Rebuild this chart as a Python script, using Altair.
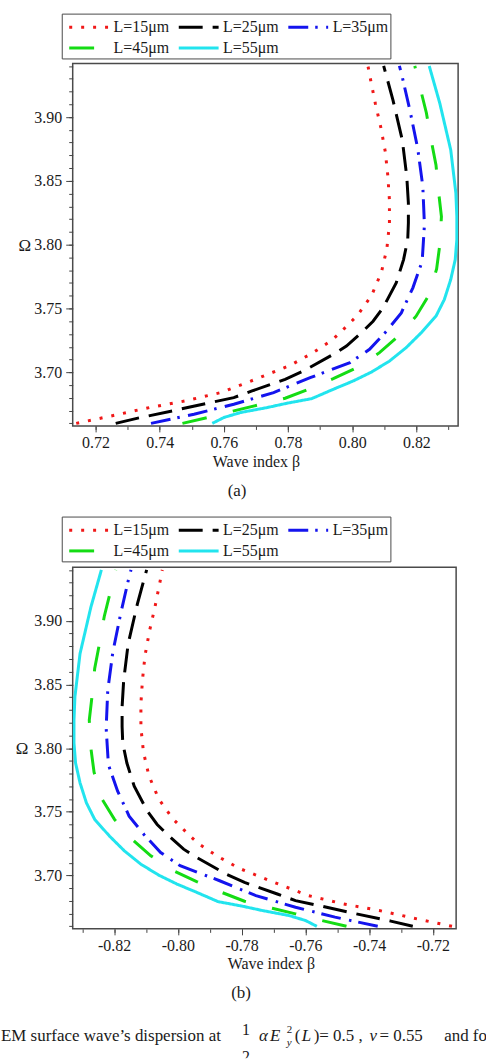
import altair as alt
import pandas as pd

SERIF = "Liberation Serif"
INK = "#1a1a1a"
TICK = "#444444"
FRAME = "#4a4a4a"

SERIES = ["L=15μm", "L=25μm", "L=35μm", "L=45μm", "L=55μm"]
COLORS = ["#f01818", "#000000", "#1414ee", "#14dc14", "#22e4ee"]
DASHES = [[3, 9], [24, 10], [20, 7, 2.5, 8.5], [25, 27], [1, 0]]

# Dispersion curves (upper branch, beta > 0); the lower branch is beta -> -beta
beta_15 = [0.7140, 0.7260, 0.7368, 0.7480, 0.7590, 0.7698, 0.7807, 0.7874, 0.7936, 0.7962,
           0.8016, 0.8060, 0.8091, 0.8108, 0.8116, 0.8116, 0.8111, 0.8103, 0.8089, 0.8072,
           0.8057, 0.8049]
omega_15 = [3.660, 3.6664, 3.6724, 3.6776, 3.6841, 3.6945, 3.7055, 3.7148, 3.7250, 3.7310,
            3.7445, 3.7600, 3.7784, 3.7969, 3.8162, 3.8350, 3.8539, 3.8729, 3.8920, 3.9107,
            3.9295, 3.9400]

beta_25 = [0.7263, 0.7332, 0.7440, 0.7549, 0.7631, 0.7688, 0.7791, 0.7848, 0.7941, 0.7982,
           0.8034, 0.8065, 0.8096, 0.8137, 0.8160, 0.8173, 0.8175, 0.8175, 0.8170, 0.8156,
           0.8127, 0.8098]
omega_25 = [3.660, 3.6641, 3.6698, 3.6758, 3.6802, 3.6854, 3.6945, 3.7010, 3.7141, 3.7206,
            3.7323, 3.7400, 3.7505, 3.7700, 3.7883, 3.8040, 3.8170, 3.8326, 3.8534, 3.8820,
            3.9133, 3.9400]

beta_35 = [0.7373, 0.7507, 0.7631, 0.7755, 0.7869, 0.7993, 0.8054, 0.8106, 0.8153, 0.8189,
           0.8218, 0.8225, 0.8220, 0.8204, 0.8180, 0.8153, 0.8147]
omega_35 = [3.660, 3.6672, 3.6750, 3.6841, 3.6958, 3.7076, 3.7180, 3.7320, 3.7466, 3.7662,
            3.7870, 3.8156, 3.8456, 3.8755, 3.9050, 3.9346, 3.9400]

beta_45 = [0.7471, 0.7549, 0.7631, 0.7704, 0.7791, 0.7863, 0.7941, 0.8008, 0.8085, 0.8142,
           0.8199, 0.8238, 0.8263, 0.8273, 0.8278, 0.8269, 0.8261, 0.8246, 0.8231, 0.8213,
           0.8195]
omega_45 = [3.660, 3.6646, 3.6698, 3.6742, 3.6797, 3.6867, 3.6951, 3.7029, 3.7154, 3.7279,
            3.7440, 3.7600, 3.7810, 3.8000, 3.8221, 3.8416, 3.8625, 3.8820, 3.9034, 3.9216,
            3.9400]

beta_55 = [0.7564, 0.7600, 0.7652, 0.7735, 0.7797, 0.7874, 0.7941, 0.8003, 0.8060, 0.8116,
           0.8168, 0.8215, 0.8261, 0.8287, 0.8307, 0.8321, 0.8326, 0.8326, 0.8323, 0.8307,
           0.8273, 0.8240]
omega_55 = [3.660, 3.6646, 3.6685, 3.6724, 3.6758, 3.6794, 3.6867, 3.6932, 3.7002, 3.7088,
            3.7193, 3.7310, 3.7440, 3.7570, 3.7727, 3.7883, 3.8040, 3.8221, 3.8404, 3.8742,
            3.9107, 3.9400]

BETAS = [beta_15, beta_25, beta_35, beta_45, beta_55]
OMEGAS = [omega_15, omega_25, omega_35, omega_45, omega_55]

Y_DOMAIN = [3.658, 3.942]
Y_MAJOR = [3.70, 3.75, 3.80, 3.85, 3.90]
Y_MINOR = [round(3.66 + 0.01 * i, 2) for i in range(29)]

XA_DOMAIN = [0.7129, 0.8330]
XA_MAJOR = [0.72, 0.74, 0.76, 0.78, 0.80, 0.82]
XA_MINOR = [round(0.72 + 0.01 * i, 2) for i in range(12)]

XB_DOMAIN = [-0.8330, -0.7127]
XB_MAJOR = [-0.82, -0.80, -0.78, -0.76, -0.74, -0.72]
XB_MINOR = [round(-0.83 + 0.01 * i, 2) for i in range(12)]

ONE = pd.DataFrame({"n": [0]})


def curve_table(sign):
    rows = []
    for name, betas, omegas in zip(SERIES, BETAS, OMEGAS):
        for k, (b, w) in enumerate(zip(betas, omegas)):
            rows.append({"series": name, "beta": sign * b, "omega": w, "k": k})
    return pd.DataFrame(rows)


def label(s, x, y, size=17, style="normal", align="left", baseline="alphabetic", clip=False):
    return alt.Chart(ONE).mark_text(
        text=s, align=align, baseline=baseline, font=SERIF, fontSize=size,
        fontStyle=style, color=INK, clip=clip,
    ).encode(x=alt.value(x), y=alt.value(y))


def panel(sign, x_domain, x_major, x_minor, label_expr, width, height,
          xtitle_x, xtitle_y, omega_x, omega_y, legend_y, tag, tag_x, tag_y):
    df = curve_table(sign)
    xs = alt.Scale(domain=x_domain, nice=False, zero=False)
    ys = alt.Scale(domain=Y_DOMAIN, nice=False, zero=False)

    minor = alt.Chart(df).mark_point(opacity=0, size=1).encode(
        x=alt.X("beta:Q", scale=xs, axis=alt.Axis(
            orient="bottom", values=x_minor, labels=False, title=None, domain=False,
            grid=False, tickSize=3.5, tickColor=TICK, tickWidth=1)),
        y=alt.Y("omega:Q", scale=ys, axis=alt.Axis(
            orient="left", values=Y_MINOR, labels=False, title=None, domain=False,
            grid=False, tickSize=4, tickColor=TICK, tickWidth=1)),
    )

    lines = alt.Chart(df).mark_line(strokeWidth=3, clip=True).encode(
        x=alt.X("beta:Q", scale=xs, axis=alt.Axis(
            orient="bottom", values=x_major, labelExpr=label_expr, domain=False, grid=False,
            tickSize=6, tickColor=TICK, tickWidth=1, labelPadding=3, labelFlush=False,
            labelOverlap=False, labelFont=SERIF, labelFontSize=16, labelColor=INK,
            title="Wave index β", titleFont=SERIF, titleFontSize=16, titleFontWeight="normal",
            titleColor=INK, titleX=xtitle_x, titleY=xtitle_y, titleAlign="center",
            titleBaseline="middle")),
        y=alt.Y("omega:Q", scale=ys, axis=alt.Axis(
            orient="left", values=Y_MAJOR, labelExpr="format(datum.value, '.2f')",
            domain=False, grid=False, tickSize=7, tickColor=TICK, tickWidth=1,
            labelPadding=4, labelFlush=False, labelOverlap=False, labelFont=SERIF,
            labelFontSize=16, labelColor=INK, title="Ω", titleAngle=0, titleFont=SERIF,
            titleFontSize=17, titleFontWeight="normal", titleColor=INK, titleX=omega_x,
            titleY=omega_y, titleAlign="center", titleBaseline="middle")),
        color=alt.Color("series:N", scale=alt.Scale(domain=SERIES, range=COLORS),
                        legend=alt.Legend(
                            title=None, orient="none", legendX=-11, legendY=legend_y,
                            columns=3, direction="horizontal",
                            # a 40 px wide stroke on a 20 px layout cell
                            symbolType="M-2,0H2", symbolSize=400, symbolOffset=14,
                            symbolStrokeWidth=3, labelFont=SERIF,
                            labelFontSize=16, labelColor=INK, labelOffset=13,
                            columnPadding=3, rowPadding=1, padding=2,
                            strokeColor=FRAME, labelLimit=200)),
        strokeDash=alt.StrokeDash("series:N", scale=alt.Scale(domain=SERIES, range=DASHES)),
        order=alt.Order("k:Q"),
    )

    tag_text = label(tag, tag_x, tag_y, size=17, align="center", baseline="middle")

    return alt.layer(minor, lines, tag_text).resolve_axis(
        x="independent", y="independent"
    ).properties(width=width, height=height,
                 view=alt.ViewBackground(stroke=FRAME, strokeWidth=1.5))


panel_a = panel(1, XA_DOMAIN, XA_MAJOR, XA_MINOR, "format(datum.value, '.2f')",
                387, 364, 184, 36, -48.5, 183, -50, "(a)", 165, 429)

panel_b = panel(-1, XB_DOMAIN, XB_MAJOR, XB_MINOR,
                "replace(format(datum.value, '.2f'), '\u2212', '-')",
                385, 363, 199, 35, -51.5, 182, -51, "(b)", 169, 427)

spacer = alt.Chart(ONE).mark_point(opacity=0).encode(
    x=alt.value(0), y=alt.value(0)
).properties(width=10, height=142, view=alt.ViewBackground(stroke="transparent"))

# Caption line below the panels (positions relative to the caption strip)
caption = alt.layer(
    label("EM surface wave’s dispersion at", -72, 113),
    label("1", 174, 107, size=16, align="center"),
    label("2", 174, 121, size=16, align="center", baseline="top", clip=True),
    label("α", 187, 113, style="italic"),
    label("E", 198, 113, style="italic"),
    label("2", 215, 105, size=11),
    label("y", 215, 118, size=11, style="italic"),
    label("(", 223, 113),
    label("L", 230, 113, style="italic"),
    label(")= 0.5 ,", 242, 113),
    label("v", 298, 113, style="italic"),
    label("= 0.55", 308, 113),
    label("and for", 373, 113, clip=True),
).properties(width=415, height=130, view=alt.ViewBackground(stroke="transparent"))

chart = alt.vconcat(
    panel_a, spacer, panel_b, caption, spacing=0, bounds="flush"
).resolve_scale(
    color="independent", strokeDash="independent"
).properties(
    padding={"left": 0, "top": 9.5, "right": 0, "bottom": 0},
    background="white",
).configure_view(stroke="transparent")

chart.save("out.html", embed_options={"renderer": "svg", "actions": False})
